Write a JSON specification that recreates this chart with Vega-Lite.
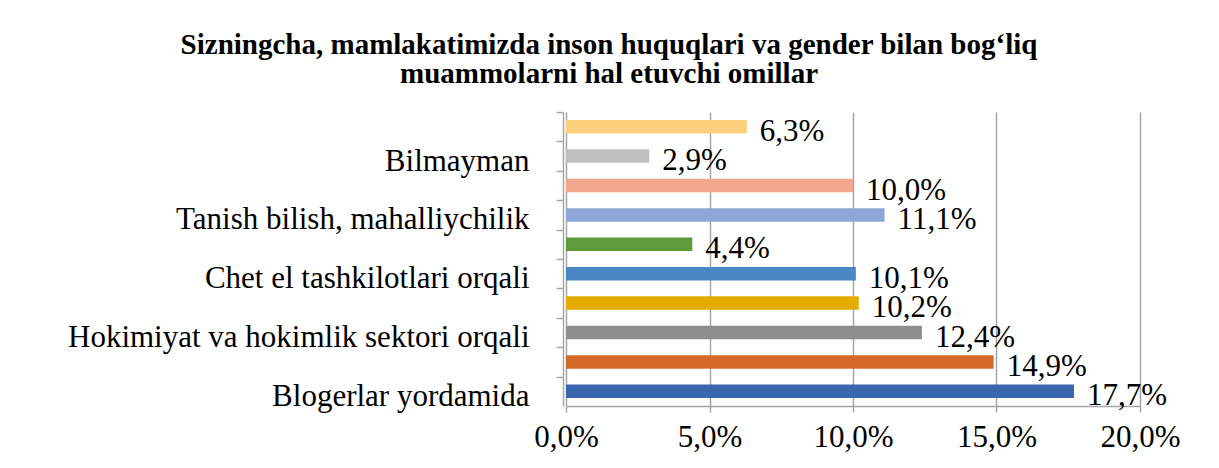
{
  "$schema": "https://vega.github.io/schema/vega-lite/v6.json",
  "width": 574,
  "height": 294,
  "autosize": {"type": "none"},
  "padding": {"left": 566, "top": 112, "right": 79, "bottom": 62},
  "background": "white",
  "title": {
    "text": ["Sizningcha, mamlakatimizda inson huquqlari va gender bilan bog‘liq", "muammolarni hal etuvchi omillar"],
    "font": "Liberation Serif",
    "fontSize": 29,
    "fontWeight": "bold",
    "color": "black",
    "anchor": "middle",
    "frame": "group",
    "dx": -244,
    "offset": 22,
    "lineHeight": 29
  },
  "config": {"view": {"stroke": null}},
  "data": {
    "values": [
      {"order": 1, "category": " ", "value": 0.063, "label": "6,3%"},
      {"order": 2, "category": "Bilmayman", "value": 0.029, "label": "2,9%"},
      {"order": 3, "category": "  ", "value": 0.100, "label": "10,0%"},
      {"order": 4, "category": "Tanish bilish, mahalliychilik", "value": 0.111, "label": "11,1%"},
      {"order": 5, "category": "   ", "value": 0.044, "label": "4,4%"},
      {"order": 6, "category": "Chet el tashkilotlari orqali", "value": 0.101, "label": "10,1%"},
      {"order": 7, "category": "    ", "value": 0.102, "label": "10,2%"},
      {"order": 8, "category": "Hokimiyat va hokimlik sektori orqali", "value": 0.124, "label": "12,4%"},
      {"order": 9, "category": "     ", "value": 0.149, "label": "14,9%"},
      {"order": 10, "category": "Blogerlar yordamida", "value": 0.177, "label": "17,7%"}
    ]
  },
  "encoding": {
    "y": {
      "field": "category",
      "type": "nominal",
      "sort": {"field": "order"},
      "scale": {"paddingInner": 0.54, "paddingOuter": 0.27},
      "axis": {
        "title": null,
        "offset": 3,
        "domainColor": "#A6A6A6",
        "domainWidth": 1.5,
        "tickColor": "#A6A6A6",
        "tickWidth": 1.5,
        "tickSize": 7,
        "tickOffset": -14.7,
        "labelOffset": 19.7,
        "labelPadding": 27,
        "labelFont": "Liberation Serif",
        "labelFontSize": 31,
        "labelColor": "black",
        "labelLimit": 600,
        "grid": false
      }
    },
    "x": {
      "field": "value",
      "type": "quantitative",
      "scale": {"domain": [0, 0.2]},
      "axis": {
        "title": null,
        "values": [0, 0.05, 0.1, 0.15, 0.2],
        "labelExpr": "replace(format(datum.value, '.1%'), '.', ',')",
        "grid": true,
        "gridColor": "#A6A6A6",
        "gridWidth": 1.5,
        "domainColor": "#A6A6A6",
        "domainWidth": 1.5,
        "tickColor": "#A6A6A6",
        "tickWidth": 1.5,
        "tickSize": 6,
        "labelPadding": 10,
        "labelFont": "Liberation Serif",
        "labelFontSize": 31,
        "labelColor": "black",
        "labelFlush": false
      }
    }
  },
  "layer": [
    {
      "mark": {"type": "bar"},
      "encoding": {
        "color": {
          "field": "order",
          "type": "nominal",
          "scale": {"domain": [1,2,3,4,5,6,7,8,9,10], "range": ["#FDD07E", "#C0C0C0", "#F2A78C", "#8EA5D9", "#5F9B3D", "#4C87C5", "#E5AC00", "#8E8E8E", "#D46B2B", "#3A66B0"]},
          "legend": null
        }
      }
    },
    {
      "mark": {"type": "text", "align": "left", "baseline": "middle", "dx": 13, "dy": 5, "font": "Liberation Serif", "fontSize": 31, "color": "black"},
      "encoding": {"text": {"field": "label"}}
    }
  ]
}
